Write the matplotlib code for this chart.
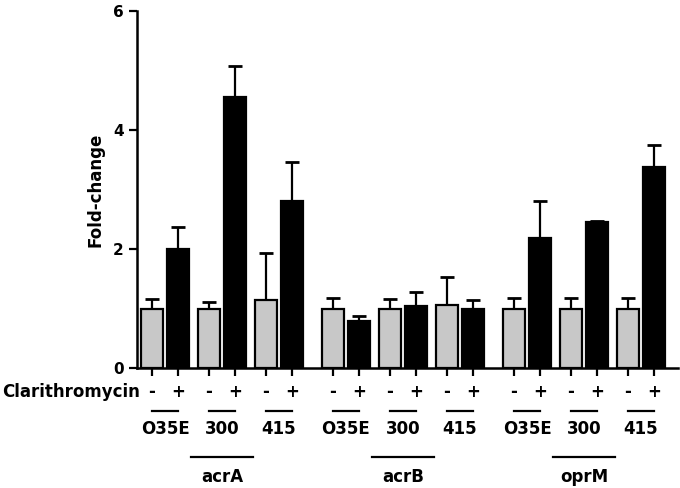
import numpy as np
import matplotlib.pyplot as plt
import matplotlib.transforms as mtransforms

plt.rcParams['font.family'] = ['DejaVu Sans']
plt.rcParams['font.weight'] = 'bold'

genes = ["acrA", "acrB", "oprM"]
strains = ["O35E", "300", "415"]

# fold-change without (-) and with (+) clarithromycin, order: acrA, acrB, oprM x O35E, 300, 415
minus_vals = [1.0, 1.0, 1.14, 1.0, 1.0, 1.06, 1.0, 1.0, 1.0]
minus_err = [0.16, 0.11, 0.79, 0.18, 0.16, 0.47, 0.18, 0.18, 0.18]
plus_vals = [2.0, 4.55, 2.8, 0.79, 1.05, 1.0, 2.19, 2.45, 3.38]
plus_err = [0.37, 0.53, 0.67, 0.08, 0.23, 0.15, 0.61, 0.02, 0.37]

W, H = 680, 488
fig = plt.figure(figsize=(6.8, 4.88), dpi=100)
ax = fig.add_axes([137 / W, 1 - 368 / H, (678 - 137) / W, (368 - 11) / H])

# layout in pixel-like units
g_idx = np.repeat(np.arange(3), 3)
p_idx = np.tile(np.arange(3), 3)
x_minus = 152 + 181 * g_idx + 57 * p_idx
x_plus = x_minus + 26
bw = 22

ax.bar(x_minus, minus_vals, width=bw, color='#c8c8c8', edgecolor='black', linewidth=1.6, zorder=3)
ax.bar(x_plus, plus_vals, width=bw, color='black', edgecolor='black', linewidth=1.6, zorder=3)
ax.errorbar(x_minus, minus_vals, yerr=[np.zeros(9), minus_err], fmt='none', ecolor='black',
            elinewidth=1.6, capsize=5, capthick=2, zorder=2)
ax.errorbar(x_plus, plus_vals, yerr=[np.zeros(9), plus_err], fmt='none', ecolor='black',
            elinewidth=1.6, capsize=5, capthick=2, zorder=2)

ax.set_xlim(137, 678)
ax.set_ylim(0, 6)
ax.set_yticks([0, 2, 4, 6])
ax.tick_params(axis='y', labelsize=11, width=1.6, length=6)
for lab in ax.get_yticklabels():
    lab.set_fontweight('bold')
ax.set_ylabel("Fold-change", fontsize=12, fontweight='bold', labelpad=6)

xt = np.sort(np.concatenate([x_minus, x_plus]))
ax.set_xticks(xt)
ax.set_xticklabels([])
ax.tick_params(axis='x', width=1.6, length=6)

for s in ['top', 'right']:
    ax.spines[s].set_visible(False)
for s in ['left', 'bottom']:
    ax.spines[s].set_linewidth(1.8)

tr = mtransforms.blended_transform_factory(ax.transData, fig.transFigure)
def fy(p):
    return 1 - p / H

fig.text(2 / W, fy(392), "Clarithromycin", fontsize=12, fontweight='bold', va='center', ha='left')
for xm, xp in zip(x_minus, x_plus):
    fig.text(xm, fy(392), "-", transform=tr, fontsize=12, fontweight='bold', ha='center', va='center')
    fig.text(xp, fy(392), "+", transform=tr, fontsize=12, fontweight='bold', ha='center', va='center')
    fig.add_artist(plt.Line2D([xm, xp], [fy(411), fy(411)], transform=tr, color='black', lw=1.6))

for i, (xm, xp) in enumerate(zip(x_minus, x_plus)):
    fig.text((xm + xp) / 2, fy(429), strains[i % 3], transform=tr, fontsize=12,
             fontweight='bold', ha='center', va='center')

for g in range(3):
    c = (x_minus[3 * g + 1] + x_plus[3 * g + 1]) / 2
    fig.add_artist(plt.Line2D([c - 31, c + 31], [fy(457), fy(457)], transform=tr, color='black', lw=1.6))
    fig.text(c, fy(477), genes[g], transform=tr, fontsize=12, fontweight='bold', ha='center', va='center')

fig.savefig("out.png", dpi=100)
